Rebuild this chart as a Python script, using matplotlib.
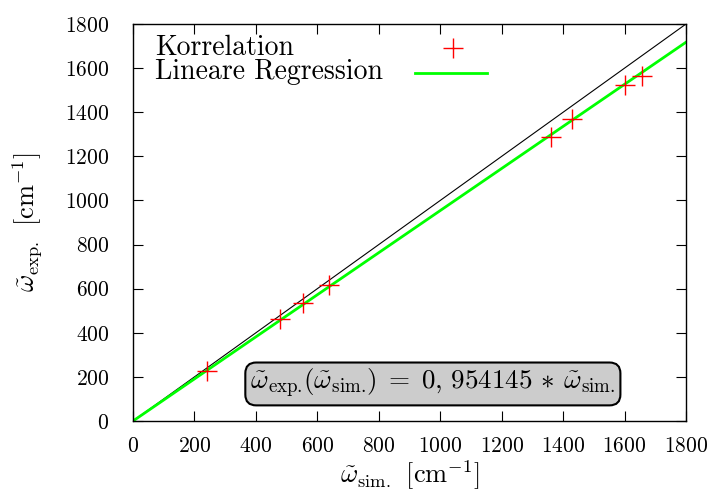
import numpy as np
import matplotlib
matplotlib.use('Agg')
import matplotlib.pyplot as plt

plt.rcParams['font.family'] = 'cmr10'
plt.rcParams['mathtext.fontset'] = 'cm'
plt.rcParams['axes.formatter.use_mathtext'] = True

# simulated vs. experimental wavenumbers
w_sim = [240, 478, 554, 639, 1360, 1428, 1602, 1658]
w_exp = [228, 461, 533, 615, 1286, 1368, 1522, 1563]
slope = 0.954145

ticks = np.arange(0, 1801, 200)

fig = plt.figure(figsize=(7.14, 4.95), dpi=100)
ax = fig.add_axes([0.1863, 0.1495, 0.7745, 0.802])

x = np.array([0, 1800])
ax.plot(x, x, color='black', lw=0.8, zorder=2)
ax.plot(w_sim, w_exp, ls='none', marker='+', color='red', ms=14, mew=1.0, zorder=3)
ax.plot(x, slope * x, color='#00ff00', lw=2, zorder=2)

ax.set_xlim(0, 1800)
ax.set_ylim(0, 1800)
ax.set_xticks(ticks)
ax.set_yticks(ticks)
ax.tick_params(axis='x', direction='in', length=7, width=0.8, top=True,
               labelsize=15.5, pad=11)
ax.tick_params(axis='y', direction='in', length=7, width=0.8, right=True,
               labelsize=15.5, pad=17)
for s in ax.spines.values():
    s.set_linewidth(1.0)

ax.set_xlabel(r'$\tilde{\omega}_{\mathrm{sim.}}\;\,[\mathrm{cm}^{-1}]$', fontsize=19, labelpad=2)
ax.set_ylabel(r'$\tilde{\omega}_{\mathrm{exp.}}\;\,[\mathrm{cm}^{-1}]$', fontsize=19, labelpad=15)

# gnuplot-style key: text left, sample right
ax.text(0.040, 0.940, 'Korrelation', transform=ax.transAxes, fontsize=20, va='center')
ax.text(0.040, 0.880, 'Lineare Regression', transform=ax.transAxes, fontsize=20, va='center')
ax.plot([0.579], [0.940], transform=ax.transAxes, ls='none', marker='+', color='red',
        ms=14, mew=1.0, clip_on=False)
ax.plot([0.510, 0.640], [0.877, 0.877], transform=ax.transAxes, color='#00ff00', lw=2)

ax.text(976, 168,
        r'$\tilde{\omega}_{\mathrm{exp.}}\!(\tilde{\omega}_{\mathrm{sim.}}\!)\;=\;0,\,954145\,\ast\,\tilde{\omega}_{\mathrm{sim.}}$',
        fontsize=19.5, ha='center', va='center', zorder=5,
        bbox=dict(boxstyle='round,pad=0.18,rounding_size=0.4', fc='#cccccc', ec='black', lw=1.5))

fig.savefig('out.png', dpi=100)
